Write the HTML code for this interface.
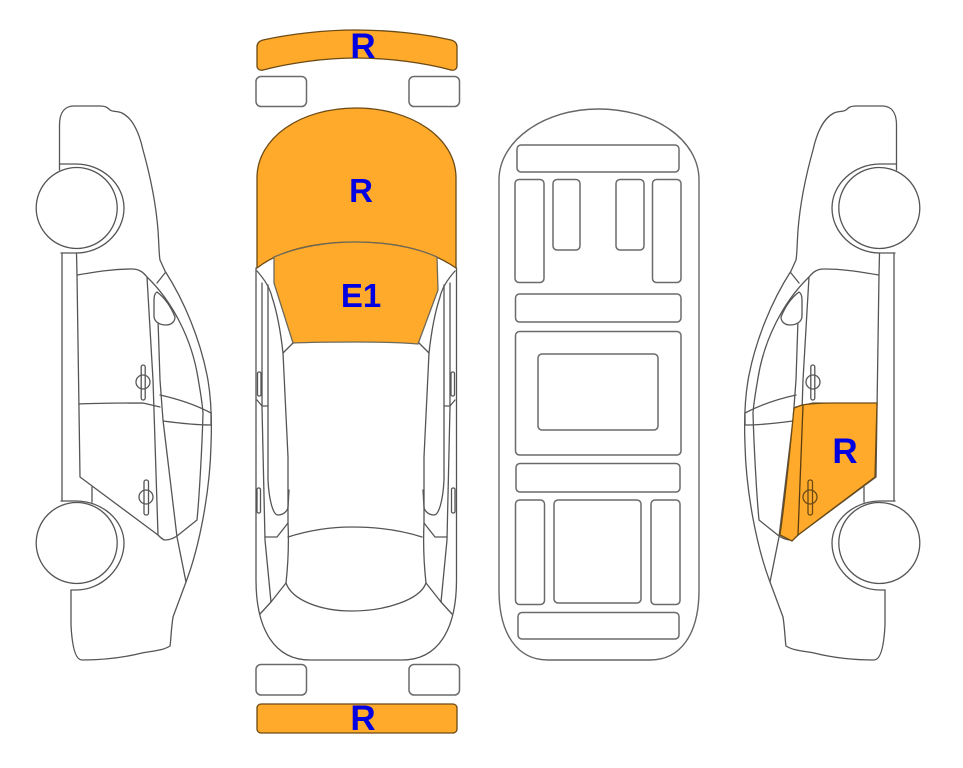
<!DOCTYPE html>
<html>
<head>
<meta charset="utf-8">
<style>
html,body{margin:0;padding:0;background:#fff}
svg{display:block}
.l{fill:none;stroke:#555;stroke-width:1.3;stroke-linejoin:round;stroke-linecap:round}
.w{fill:#fff;stroke:#555;stroke-width:1.3}
.o{fill:#ffaa2b;stroke:#6b4a14;stroke-width:1.3;stroke-linejoin:round}
.b{fill:none;stroke:#6a6a6a;stroke-width:1.5}
text{font-family:"Liberation Sans",sans-serif;font-weight:bold;fill:#0000e0;font-size:33px;text-anchor:middle}
</style>
</head>
<body>
<svg width="963" height="768" viewBox="0 0 963 768" xmlns="http://www.w3.org/2000/svg">
<defs>
<g id="side">
<path class="l" d="M59.500 170V125C59.500 112 65 106 74 106L100 106C106 106 108 108 110 110C113 112 118 111 122 113C132 118 139 132 143 150C150 175 156 205 158 230C159 245 159 255 160 260L165 271C185 302 200 340 207 375C211 395 212 420 211 445C210 490 200 545 186 582L173 617C171 630 171 640 170 646C162 651 152 651 142 653C122 658 102 660 82 660C75 660 72 645 71 625L71 590"/>
<path class="l" d="M59.500 164H76C102 164 124 184 124 208C124 233 102 253 76 253H61"/>
<path class="l" d="M61 501H76C102 501 124 520 124 543C124 568 102 590 76 590H71"/>
<path class="l" d="M62 253V501"/>
<path class="l" d="M76.500 253L77 275L80 477L158 535C161 538 163 540 165 540C170 540 174 538 177 536L197 520C199 500 202 450 203 413C202 400 200 390 198 378C192 340 173 302 147 277C143 272 139 269 132 269C112 269 95 272 77 275"/>
<path class="l" d="M147 277L153 380L158 535"/>
<path class="l" d="M158 320L160 380L163 420L177 537L186 582"/>
<path class="l" d="M165 273L157 283"/>
<path class="l" d="M79 404C100 403 125 403 143 403L160 407"/>
<path class="l" d="M160 395C178 399 196 405 211 413L211 425C195 425 178 423 163 421"/>
<path class="l" d="M92 487V502"/>
<path class="w" d="M157 292C154 294 154 298 154 302V316C154 322 160 325 166 325C172 325 175 321 175 317C171 307 165 298 157 292Z"/>
<rect class="l" x="141.200" y="365" width="4" height="35" rx="2"/>
<circle class="l" cx="143" cy="382" r="7"/>
<rect class="l" x="144" y="480" width="4.500" height="35" rx="2"/>
<circle class="l" cx="146" cy="497" r="7"/>
<circle class="w" cx="76.700" cy="208" r="40.500"/>
<circle class="w" cx="76.700" cy="543" r="40.500"/>
</g>
<g id="half">
<path class="l" d="M257 271C265 280 270 288 272 297C278 315 281 335 283 353L288 457V523C289 545 288 565 286 583L271 602L260 614"/>
<path class="l" d="M262 283V407L265 540L271 602"/>
<path class="l" d="M268 285V480C269 500 273 515 278 515C284 515 288 510 288 507L289 490"/>
<path class="l" d="M257 400L262 406H268"/>
<path class="l" d="M265 537H277L288 523"/>
<path class="l" d="M283 353L293 343"/>
<rect class="l" x="257.500" y="372" width="3.500" height="24" rx="1.500"/>
<rect class="l" x="257" y="488" width="3.500" height="25" rx="1.500"/>
</g>
</defs>

<use href="#side"/>
<use href="#side" transform="translate(956,0) scale(-1,1)"/>

<path class="o" d="M794 408L802 405C815 403 825 403 835 403L877 403L875 477L798 535L792 541L780 535C785 500 790 450 794 408Z"/>
<path class="l" d="M798 535L803 405" style="stroke:#5a3c10"/>
<rect class="l" x="808" y="480" width="4.500" height="35" rx="2" style="stroke:#6b4a14"/>
<circle class="l" cx="810" cy="497" r="7" style="stroke:#6b4a14"/>

<path class="o" d="M257 47C257 43 259 41 263 40C290 34 325 30 355 30C390 30 425 34 451 40C455 41 457 43 457 47L457 66C457 69 454 71 451 70C425 63 390 58 355 58C325 58 290 63 263 70C260 71 257 69 257 66Z"/>
<rect class="b" x="256" y="76.500" width="50.500" height="30" rx="5"/>
<rect class="b" x="409" y="76.500" width="50.500" height="30" rx="5"/>
<rect class="b" x="256" y="664.500" width="50.500" height="30.500" rx="5"/>
<rect class="b" x="409" y="664.500" width="50.500" height="30.500" rx="5"/>
<rect class="o" x="257" y="704" width="200" height="29" rx="4"/>

<path class="l" d="M256 268V580C256 630 275 660 310 660H402C438 660 456.500 630 456.500 580V268"/>
<path class="o" d="M257 268V178C257 138 300 108 356 108C412 108 456 138 456 178V268C430 250 395 242 355 242C315 242 280 250 257 268Z"/>
<path class="o" style="stroke:#6e6a5a" d="M274 257C300 246 330 242 355 242C385 242 415 247 437 257L438 290L418 344C395 342 375 342 355 342C335 342 315 342 293 343L274 283Z"/>
<use href="#half"/>
<use href="#half" transform="translate(712,0) scale(-1,1)"/>
<path class="l" d="M286 583C292 600 320 611 352 611C385 611 420 600 426 583"/>
<path class="l" d="M288 537C310 530 330 527 352 527C375 527 400 530 422 537"/>

<path class="l" style="stroke:#666;stroke-width:1.4" d="M499 590V180C499 140 545 109 598 109C655 109 699 140 699 180V590C699 635 680 660 650 660H548C518 660 499 635 499 590Z"/>
<g class="b">
<rect x="517" y="145" width="162" height="27" rx="4"/>
<rect x="515" y="179.500" width="29" height="103" rx="4"/>
<rect x="553" y="179.500" width="27" height="70.500" rx="4"/>
<rect x="616" y="179.500" width="28" height="70.500" rx="4"/>
<rect x="652.500" y="179.500" width="28.500" height="103" rx="4"/>
<rect x="515.500" y="294" width="165.500" height="28" rx="4"/>
<rect x="515.500" y="331.500" width="165.500" height="123.500" rx="4"/>
<rect x="538" y="354" width="120" height="76" rx="4"/>
<rect x="516" y="463.500" width="164" height="28.500" rx="4"/>
<rect x="515.500" y="500" width="29" height="104.500" rx="4"/>
<rect x="554" y="500" width="87" height="103" rx="4"/>
<rect x="651" y="500" width="29" height="104.500" rx="4"/>
<rect x="518" y="612.500" width="161" height="26.500" rx="4"/>
</g>

<text x="363" y="58" style="font-size:35px">R</text>
<text x="361" y="202">R</text>
<text x="361" y="307">E1</text>
<text x="363" y="730" style="font-size:35px">R</text>
<text x="845" y="463" style="font-size:35px">R</text>
</svg>
</body>
</html>
